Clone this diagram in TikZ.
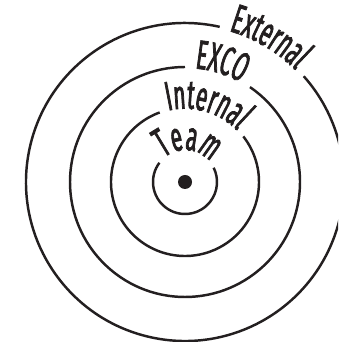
\documentclass[tikz,border=0pt]{standalone}
\usepackage{fontspec}
\newfontfamily\ringfont{Fira Sans}[FakeStretch=0.51, FakeBold=1.8, Scale=3.5]
\usetikzlibrary{decorations.text}
\definecolor{ink}{HTML}{231F20}
\tikzset{
  ring/.style={line width=2.1pt, draw=ink},
  ringlabel/.style={decorate, decoration={text along path, text align=center,
      text color=ink, text={|\ringfont|#1}}},
}

\begin{document}
\begin{tikzpicture}
        \useasboundingbox (0,0) rectangle (10.14,10.26);
        \clip (0,0) rectangle (10.14,10.26);
        \coordinate (c) at (5.55,4.8);
        % External
        \draw[ring] (c) ++(77.4:4.77) arc[start angle=77.4, end angle=401.7, radius=4.77cm];
        \path[ringlabel=External] (c) ++(77.4:4.72) arc[start angle=77.4, end angle=41.7, radius=4.72cm];
        % EXCO
        \draw[ring] (c) ++(90:3.45) arc[start angle=90, end angle=415.6, radius=3.45cm];
        \path[ringlabel=EXCO] (c) ++(90:3.42) arc[start angle=90, end angle=55.6, radius=3.42cm];
        % Internal
        \draw[ring] (c) ++(110:2.22) arc[start angle=110, end angle=398, radius=2.22cm];
        \path[ringlabel=Internal] (c) ++(110:2.2) arc[start angle=110, end angle=38, radius=2.2cm];
        % Team
        \draw[ring] (c) ++(143:0.96) arc[start angle=143, end angle=386.5, radius=0.96cm];
        \path[ringlabel=Team] (c) ++(143:0.96) arc[start angle=143, end angle=26.5, radius=0.96cm];
        % Centre
        \fill[ink] (c) circle (0.21cm);
    \end{tikzpicture}
\end{document}
